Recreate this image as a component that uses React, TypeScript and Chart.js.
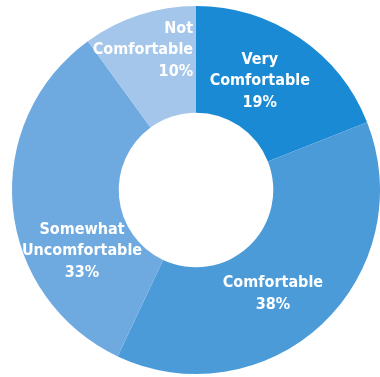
import React, { useEffect, useRef } from "react";
import { Chart, registerables } from "chart.js";

Chart.register(...registerables);

const categories = ["Very Comfortable", "Comfortable", "Somewhat Uncomfortable", "Not Comfortable"];
const values = [19, 38, 33, 10];
const labelLines = [
  ["Very", "Comfortable", "19%"],
  ["Comfortable", "38%"],
  ["Somewhat", "Uncomfortable", "33%"],
  ["Not", "Comfortable", "10%"],
];
const colors = ["#1b8ad4", "#4c9bd9", "#6eaae0", "#a5c6eb"];

// label placement (polar, degrees clockwise from top, fraction of outer radius)
const labelAngles = [30.4, 143.5, 241.8, 358.8];
const labelRadii = [0.685, 0.703, 0.703, 0.76];
const labelAligns: CanvasTextAlign[] = ["center", "center", "center", "right"];

const labelPlugin = {
  id: "sliceLabels",
  afterDatasetsDraw(chart: any) {
    const meta = chart.getDatasetMeta(0);
    const arc = meta.data[0];
    if (!arc) return;
    const cx = arc.x;
    const cy = arc.y;
    const R = arc.outerRadius;
    const ctx = chart.ctx;
    ctx.save();
    ctx.fillStyle = "#ffffff";
    ctx.font = "bold 16px 'DejaVu Sans Condensed', 'DejaVu Sans', sans-serif";
    ctx.textBaseline = "middle";
    const lh = 21.5;
    labelLines.forEach((lines, i) => {
      const a = (labelAngles[i] * Math.PI) / 180;
      const px = cx + Math.sin(a) * R * labelRadii[i];
      const py = cy - Math.cos(a) * R * labelRadii[i];
      ctx.textAlign = labelAligns[i];
      const start = py - ((lines.length - 1) * lh) / 2;
      lines.forEach((t, j) => ctx.fillText(t, px, start + j * lh));
    });
    ctx.restore();
  },
};

export default function App() {
  const ref = useRef<HTMLCanvasElement>(null);
  useEffect(() => {
    if (!ref.current) return;
    const chart = new Chart(ref.current, {
      type: "doughnut",
      data: {
        labels: categories,
        datasets: [
          {
            data: values,
            backgroundColor: colors,
            borderWidth: 0,
          },
        ],
      },
      options: {
        animation: false,
        responsive: true,
        maintainAspectRatio: false,
        cutout: "42%",
        layout: { padding: { left: 12, right: 0, top: 6, bottom: 3 } },
        plugins: { legend: { display: false }, tooltip: { enabled: false } },
      },
      plugins: [labelPlugin],
    });
    return () => chart.destroy();
  }, []);
  return (
    <div style={{ position: "fixed", left: 0, top: 0, width: 380, height: 377, background: "#fff" }}>
      <canvas ref={ref} />
    </div>
  );
}
